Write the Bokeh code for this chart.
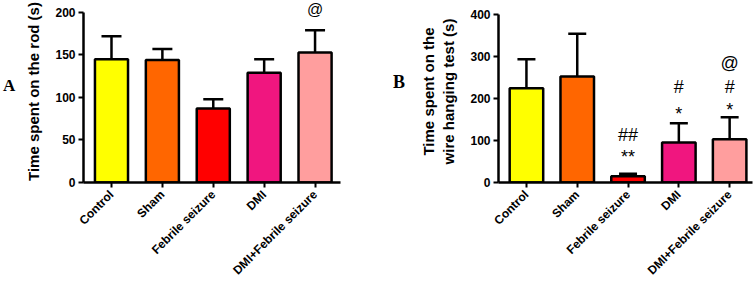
from bokeh.plotting import figure
from bokeh.layouts import row
from bokeh.models import (ColumnDataSource, Range1d, FixedTicker, Whisker,
                          TeeHead, Div)
from bokeh.embed import file_html
from bokeh.resources import INLINE

# Groups
groups = ["Control", "Sham", "Febrile seizure", "DMI", "DMI+Febrile seizure"]
colors = ["#FFFF00", "#FF6600", "#FF0000", "#F0167F", "#FF9E9E"]

# Panel A: time spent on the rod (s), mean and SEM
rod_mean = [145, 144, 87, 129, 153]
rod_sem = [27, 13, 11, 16, 26]
rod_ticks = [0, 50, 100, 150, 200]
rod_marks = [(5, "@", 204)]

# Panel B: time spent on the wire hanging test (s), mean and SEM
wire_mean = [224, 252, 15, 95, 103]
wire_sem = [69, 102, 6, 46, 52]
wire_ticks = [0, 100, 200, 300, 400]
# significance marks: (group index, text, y)
wire_marks = [(3, "##", 114), (3, "**", 61), (4, "#", 227), (4, "*", 163),
              (5, "#", 227), (5, "*", 172), (5, "@", 284)]

FONT = "Liberation Sans"


def panel(means, sems, ticks, ylabel, width, left, right, bottom, ymax,
          xend, bar_w, cap):
    xs = list(range(1, len(groups) + 1))
    src = ColumnDataSource(dict(
        x=xs, top=means, upper=[m + s for m, s in zip(means, sems)],
        color=colors))
    p = figure(width=width, height=286, output_backend="svg",
               toolbar_location=None, x_range=Range1d(0.45, xend),
               y_range=Range1d(0, ymax), min_border_left=left,
               min_border_right=right, min_border_top=0,
               min_border_bottom=bottom)
    p.outline_line_color = None
    p.xgrid.visible = False
    p.ygrid.visible = False
    p.background_fill_color = "white"
    p.border_fill_color = "white"

    err = Whisker(source=src, base="x", lower="top", upper="upper",
                  dimension="height", line_width=2.5, line_color="black",
                  lower_head=None,
                  upper_head=TeeHead(size=cap, line_width=2.5,
                                     line_color="black"))
    p.add_layout(err)
    p.vbar(x="x", top="top", width=bar_w, bottom=0, source=src,
           fill_color="color", line_color="black", line_width=2.5)

    yax = p.yaxis[0]
    yax.ticker = FixedTicker(ticks=ticks)
    yax.bounds = (ticks[0], ticks[-1])
    yax.axis_label = ylabel
    yax.axis_label_text_font = FONT
    yax.axis_label_text_font_style = "bold"
    yax.axis_label_text_font_size = "15px"
    yax.axis_label_text_color = "black"
    yax.axis_label_standoff = 10
    yax.major_label_text_font = FONT
    yax.major_label_text_font_style = "bold"
    yax.major_label_text_font_size = "12px"
    yax.major_label_text_color = "black"
    yax.major_label_standoff = 3
    yax.axis_line_width = 2.5
    yax.major_tick_line_width = 2
    yax.major_tick_out = 5
    yax.major_tick_in = 0
    yax.minor_tick_line_color = None

    xax = p.xaxis[0]
    xax.ticker = FixedTicker(ticks=xs)
    xax.major_label_overrides = {i: g for i, g in zip(xs, groups)}
    xax.major_label_orientation = 0.785398
    xax.major_label_text_font = FONT
    xax.major_label_text_font_style = "bold"
    xax.major_label_text_font_size = "12px"
    xax.major_label_text_color = "black"
    xax.major_label_standoff = 5
    xax.axis_line_width = 2.5
    xax.major_tick_line_width = 2
    xax.major_tick_out = 5
    xax.major_tick_in = 0
    xax.minor_tick_line_color = None
    return p


def add_marks(p, marks, size):
    src = ColumnDataSource(dict(x=[m[0] for m in marks],
                                y=[m[2] for m in marks],
                                t=[m[1] for m in marks]))
    p.text(x="x", y="y", text="t", source=src, text_align="center",
           text_baseline="middle", text_font_size=size,
           text_color="black", text_font={"value": FONT})


def letter(text, width, left, top, size):
    html = ('<div style="font-family: \'Liberation Serif\'; font-weight: bold;'
            f' font-size: {size}; line-height: 1;'
            f' padding-left: {left}px; padding-top: {top}px;">{text}</div>')
    return Div(text=html, width=width, height=286, margin=0)


pa = panel(rod_mean, rod_sem, rod_ticks, "Time spent on the rod (s)",
           358, 63, 38, 104, 214, 5.5, 0.65, 20)
add_marks(pa, rod_marks, "16px")

pb = panel(wire_mean, wire_sem, wire_ticks,
           "Time spent on the\nwire hanging test (s)",
           345, 88, 3, 103, 433, 5.45, 0.66, 18)
add_marks(pb, wire_marks, "18px")

layout = row(letter("A", 20, 3, 77, "17px"), pa,
             letter("B", 32, 15, 73, "18px"), pb, spacing=0)
open("out.html", "w").write(file_html(layout, INLINE))
